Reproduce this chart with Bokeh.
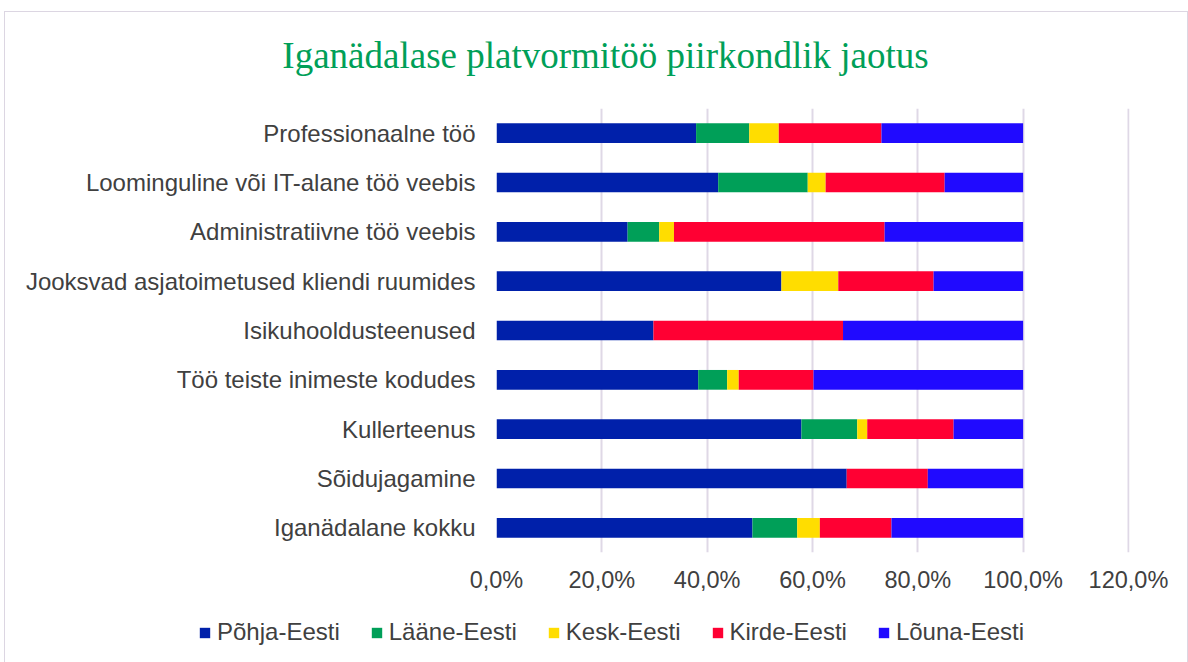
import numpy as np
from bokeh.plotting import figure
from bokeh.layouts import column, row
from bokeh.models import (FactorRange, ColumnDataSource, Range1d, FixedTicker,
                          CustomJSTickFormatter, Legend, LegendItem, Label)
from bokeh.embed import file_html
from bokeh.resources import INLINE

categories = [
    "Professionaalne töö",
    "Loominguline või IT-alane töö veebis",
    "Administratiivne töö veebis",
    "Jooksvad asjatoimetused kliendi ruumides",
    "Isikuhooldusteenused",
    "Töö teiste inimeste kodudes",
    "Kullerteenus",
    "Sõidujagamine",
    "Iganädalane kokku",
]
regions = ["Põhja-Eesti", "Lääne-Eesti", "Kesk-Eesti", "Kirde-Eesti", "Lõuna-Eesti"]

pohja = [37.9, 42.1, 24.9, 54.1, 29.8, 38.3, 57.9, 66.5, 48.6]
laane = [10.1, 17.0, 6.0, 0.0, 0.0, 5.5, 10.6, 0.0, 8.5]
kesk = [5.6, 3.4, 2.8, 10.8, 0.0, 2.2, 1.9, 0.0, 4.3]
kirde = [19.5, 22.6, 40.0, 18.1, 36.0, 14.2, 16.4, 15.4, 13.6]
louna = [26.9, 14.9, 26.3, 17.0, 34.2, 39.8, 13.2, 18.1, 25.0]

x_ticks = [0, 20, 40, 60, 80, 100, 120]
colors = ["#0020AA", "#009F58", "#FFDD00", "#FF0033", "#200AFF"]
title_text = "Iganädalase platvormitöö piirkondlik jaotus"

src = ColumnDataSource(dict(cat=categories, p1=pohja, p2=laane, p3=kesk, p4=kirde, p5=louna))

W, HT, H1, H2 = 1182, 95, 505, 50


def strip(height):
    f = figure(width=W, height=height, output_backend="svg", toolbar_location=None,
               x_range=Range1d(0, 1), y_range=Range1d(0, 1),
               x_axis_type=None, y_axis_type=None,
               min_border_left=0, min_border_right=0, min_border_top=0, min_border_bottom=0)
    f.outline_line_color = None
    f.border_fill_color = "white"
    f.background_fill_color = "white"
    f.grid.visible = False
    return f


# title strip
pt = strip(HT)
pt.add_layout(Label(x=600, y=52, x_units="screen", y_units="screen", text=title_text,
                    text_align="center", text_baseline="middle",
                    text_font="Liberation Serif", text_font_size="37px",
                    text_color="#009F58"))

# main chart
p = figure(width=W, height=H1, output_backend="svg", toolbar_location=None, title=None,
           y_range=FactorRange(factors=list(reversed(categories))),
           x_range=Range1d(0, 120.2),
           min_border_left=491, min_border_right=58, min_border_top=1, min_border_bottom=60)

p.hbar_stack(["p1", "p2", "p3", "p4", "p5"], y="cat", height=0.4, color=colors,
             line_color=None, source=src)

p.outline_line_color = None
p.border_fill_color = "white"
p.background_fill_color = "white"

p.ygrid.grid_line_color = None
p.xgrid.grid_line_color = "#DFD8E6"
p.xgrid.grid_line_width = 2
p.xaxis.ticker = FixedTicker(ticks=x_ticks)
p.xaxis.formatter = CustomJSTickFormatter(code="return tick.toFixed(1).replace('.', ',') + '%';")

for ax in (p.xaxis[0], p.yaxis[0]):
    ax.axis_line_color = None
    ax.major_tick_line_color = None
    ax.minor_tick_line_color = None
    ax.major_tick_out = 0
    ax.major_tick_in = 0
    ax.major_label_text_font = "Liberation Sans"
    ax.major_label_text_color = "#404040"
p.yaxis.major_label_text_font_size = "24px"
p.xaxis.major_label_text_font_size = "23.5px"
p.yaxis.major_label_standoff = 21
p.xaxis.major_label_standoff = 14

# legend strip (its own frame spans the full width)
pl = strip(H2)
# legend proxies: no drawable coordinates, only their colour is used by the legend
nan = np.array([np.nan])
proxies = [pl.hbar(y=nan, left=nan, right=nan, height=0.4, color=c, line_color=None)
           for c in colors]

lg = Legend(items=[LegendItem(label=n, renderers=[r]) for n, r in zip(regions, proxies)])
lg.location = (193, 16)
lg.orientation = "horizontal"
lg.glyph_width = 13
lg.glyph_height = 13
lg.label_standoff = 6
lg.spacing = 30
lg.padding = 0
lg.margin = 0
lg.border_line_color = None
lg.background_fill_alpha = 0
lg.label_text_font = "Liberation Sans"
lg.label_text_font_size = "24px"
lg.label_text_color = "#404040"
pl.add_layout(lg, "center")

layout = column(row(pt), p, row(pl), spacing=0)
layout.styles = {"border": "1px solid #DCD6E2", "margin-left": "4px", "margin-top": "11px"}

open("out.html", "w").write(file_html(layout, INLINE))
